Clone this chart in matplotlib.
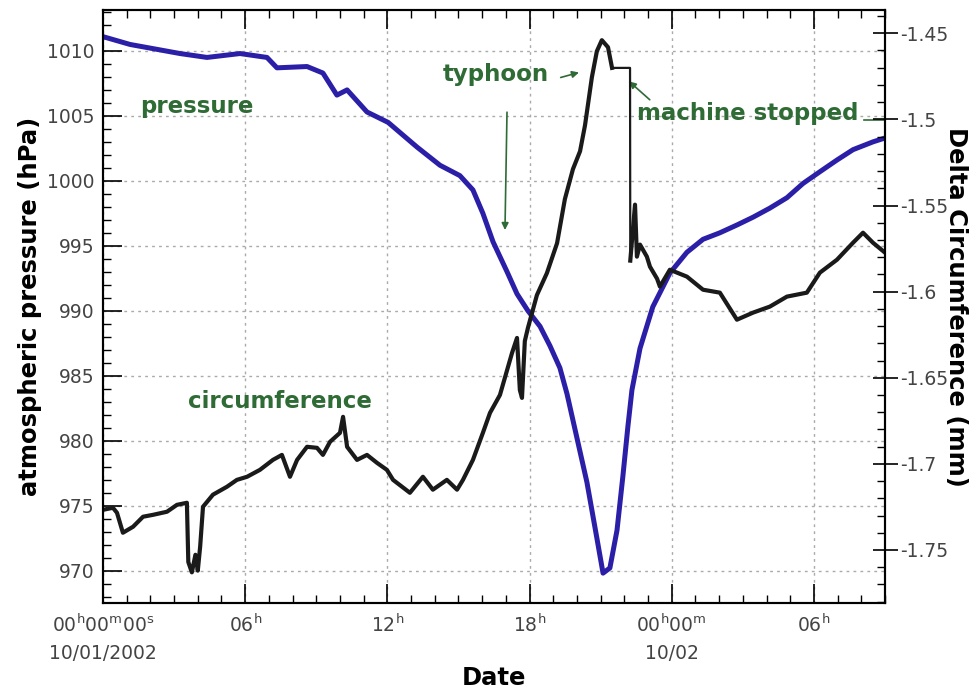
import numpy as np
import matplotlib.pyplot as plt
from matplotlib.ticker import MultipleLocator

# atmospheric pressure (hPa), hours since 00h 10/01/2002
hours_p = [0.0, 1.14, 3.25, 4.39, 5.78, 6.92, 7.34, 8.61, 9.28, 9.87, 10.3, 11.14,
           12.03, 13.25, 14.22, 15.06, 15.61, 16.03, 16.46, 17.05, 17.47, 17.93,
           18.44, 18.86, 19.28, 19.58, 20.0, 20.42, 20.84, 21.1, 21.39, 21.69,
           21.94, 22.15, 22.32, 22.66, 23.2, 23.92, 24.64, 25.32, 26.03, 26.75,
           27.43, 28.14, 28.86, 29.54, 30.25, 30.97, 31.65, 32.49, 33.0]
pressure = [1011.1, 1010.5, 1009.8, 1009.5, 1009.8, 1009.5, 1008.7, 1008.8, 1008.3,
            1006.6, 1007.0, 1005.3, 1004.5, 1002.6, 1001.2, 1000.4, 999.3, 997.5,
            995.3, 993.0, 991.3, 990.0, 988.8, 987.3, 985.6, 983.6, 980.2, 976.8,
            972.5, 969.8, 970.2, 973.1, 977.3, 981.1, 983.9, 987.1, 990.3, 992.9,
            994.5, 995.5, 996.0, 996.6, 997.2, 997.9, 998.7, 999.8, 1000.7, 1001.6,
            1002.4, 1003.0, 1003.3]

# delta circumference (mm)
hours_c = [0.0, 0.42, 0.59, 0.84, 1.27, 1.69, 2.11, 2.70, 3.12, 3.54, 3.6, 3.75,
           3.9, 4.0, 4.1, 4.22, 4.64, 5.23, 5.65, 6.08, 6.62, 7.17, 7.55, 7.89,
           8.19, 8.61, 9.03, 9.28, 9.58, 10.0, 10.13, 10.3, 10.72, 11.14, 11.56,
           11.98, 12.24, 12.95, 13.5, 13.92, 14.51, 14.94, 15.19, 15.61, 16.03,
           16.33, 16.75, 17.26, 17.47, 17.59, 17.68, 17.8, 17.93, 18.31, 18.73,
           19.16, 19.49, 19.83, 20.13, 20.34, 20.63, 20.84, 21.05, 21.31, 21.48,
           22.24, 22.25, 22.45, 22.53, 22.66, 22.95, 23.08, 23.38, 23.5, 23.92,
           24.64, 25.32, 26.03, 26.75, 27.43, 28.14, 28.86, 29.7, 30.25, 30.97,
           31.65, 32.07, 32.49, 33.0]
circ = [-1.7267, -1.7255, -1.7284, -1.7400, -1.7365, -1.7307, -1.7296, -1.7278,
        -1.7238, -1.7226, -1.7570, -1.7630, -1.7528, -1.7620, -1.7480, -1.7249,
        -1.7179, -1.7133, -1.7093, -1.7075, -1.7035, -1.6977, -1.6948, -1.7075,
        -1.6977, -1.6901, -1.6907, -1.6948, -1.6872, -1.6820, -1.6727, -1.6901,
        -1.6977, -1.6948, -1.6994, -1.7035, -1.7093, -1.7168, -1.7075, -1.7150,
        -1.7093, -1.7150, -1.7093, -1.6977, -1.6820, -1.6704, -1.6600, -1.6356,
        -1.6269, -1.6571, -1.6617, -1.6287, -1.6211, -1.6020, -1.5893, -1.5719,
        -1.5463, -1.5289, -1.5185, -1.5034, -1.4755, -1.4604, -1.4540, -1.4581,
        -1.4701, -1.4701, -1.5820, -1.5495, -1.5797, -1.5727, -1.5797, -1.5855,
        -1.5925, -1.5971, -1.5873, -1.5913, -1.5989, -1.6006, -1.6163, -1.6122,
        -1.6087, -1.6029, -1.6006, -1.5890, -1.5815, -1.5716, -1.5658, -1.5716,
        -1.5774]

xticks = [0, 6, 12, 18, 24, 30]
xlabels = [r'$00^{h}00^{m}00^{s}$' + '\n10/01/2002', r'$06^{h}$', r'$12^{h}$',
           r'$18^{h}$', r'$00^{h}00^{m}$' + '\n10/02', r'$06^{h}$']
p_ticks = [970, 975, 980, 985, 990, 995, 1000, 1005, 1010]
c_ticks = [-1.75, -1.7, -1.65, -1.6, -1.55, -1.5, -1.45]

plt.rcParams['mathtext.default'] = 'regular'
green = '#2f6b35'
tick_col = '#444444'

fig = plt.figure(figsize=(9.8, 6.96), dpi=100)
ax = fig.add_axes([0.1051, 0.1336, 0.798, 0.852])
ax2 = ax.twinx()

ax.plot(hours_p, pressure, color='#2b1fa8', lw=3.6, solid_joinstyle='round')

# the machine was stopped between ~21.5h and ~22.25h: flat segment and drop drawn thin
i0 = hours_c.index(21.48)
i1 = hours_c.index(22.25)
ax2.plot(hours_c[:i0 + 1], circ[:i0 + 1], color='#1a1a1a', lw=3.0,
         solid_joinstyle='round')
ax2.plot(hours_c[i0:i1 + 1], circ[i0:i1 + 1], color='#1a1a1a', lw=1.6)
ax2.plot(hours_c[i1:], circ[i1:], color='#1a1a1a', lw=3.0, solid_joinstyle='round')

ax.set_xlim(0, 33)
ax.set_ylim(967.5, 1013.15)
ax2.set_ylim(-1.7808, -1.4365)

ax.set_xticks(xticks)
ax.set_xticklabels(xlabels, fontsize=13.5, color=tick_col, linespacing=1.5)
ax.xaxis.set_minor_locator(MultipleLocator(1))
ax.set_yticks(p_ticks)
ax.set_yticklabels([str(v) for v in p_ticks], fontsize=13.5, color=tick_col)
ax.yaxis.set_minor_locator(MultipleLocator(1))
ax2.set_yticks(c_ticks)
ax2.set_yticklabels([f'{v:g}' for v in c_ticks], fontsize=13.5, color=tick_col)
ax2.yaxis.set_minor_locator(MultipleLocator(0.01))

ax.tick_params(axis='both', which='major', direction='in', length=14, width=1.2,
               top=True, pad=6)
ax.tick_params(axis='x', which='major', pad=8)
ax.tick_params(axis='both', which='minor', direction='in', length=6, width=1, top=True)
ax2.tick_params(axis='y', which='major', direction='inout', length=18, width=1.2, pad=2)
ax2.tick_params(axis='y', which='minor', direction='in', length=6, width=1)

ax.grid(True, which='major', color='#aaaaaa', linestyle=(0, (2, 3)), lw=1)
for s in ax.spines.values():
    s.set_linewidth(1.5)
for s in ax2.spines.values():
    s.set_linewidth(1.5)

ax.set_ylabel('atmospheric pressure (hPa)', fontsize=17.5, fontweight='bold', labelpad=4)
ax2.set_ylabel('Delta Circumference (mm)', fontsize=17.5, fontweight='bold',
               rotation=270, labelpad=14)
ax.set_xlabel('Date', fontsize=17.5, fontweight='bold', labelpad=2)

# annotations
txt = dict(color=green, fontsize=16.5, fontweight='bold', va='center', ha='left')
ax.text(1.56, 1005.7, 'pressure', **txt)
ax.text(3.6, 983.0, 'circumference', **txt)
ax.text(14.35, 1008.2, 'typhoon', **txt)
ax.text(22.53, 1005.2, 'machine stopped', **txt)
arrow = dict(arrowstyle='-|>', color=green, lw=1.2, mutation_scale=10)
ax.annotate('', xy=(20.2, 1008.4), xytext=(19.2, 1007.9), arrowprops=arrow)
ax.annotate('', xy=(16.96, 996.0), xytext=(17.05, 1005.5), arrowprops=arrow)
ax.annotate('', xy=(22.11, 1007.8), xytext=(23.16, 1006.1), arrowprops=arrow)
ax.plot([32.1, 33.0], [1004.7, 1004.7], color=green, lw=1.2)

fig.savefig('out.png', dpi=100)
